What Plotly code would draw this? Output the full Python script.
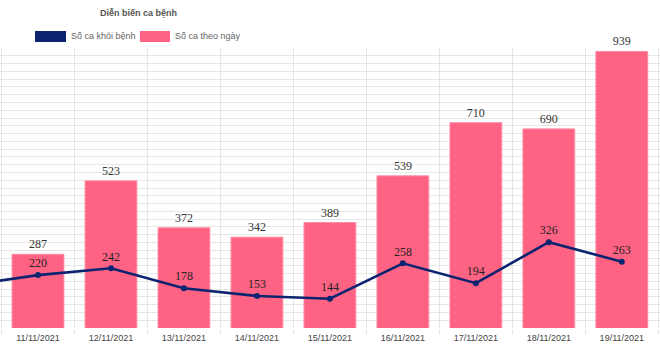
import plotly.graph_objects as go

dates = ["10/11/2021", "11/11/2021", "12/11/2021", "13/11/2021", "14/11/2021",
         "15/11/2021", "16/11/2021", "17/11/2021", "18/11/2021", "19/11/2021"]
daily_cases = [None, 287, 523, 372, 342, 389, 539, 710, 690, 939]
recovered = [186, 220, 242, 178, 153, 144, 258, 194, 326, 263]

title_text = "Diễn biến ca bệnh"
legend_recovered = "Số ca khỏi bệnh"
legend_cases = "Số ca theo ngày"

PINK = "#ff6384"
NAVY = "#0c2470"

# the first date lies just outside the visible window; its label is not shown
bar_labels = ["" if v is None else str(v) for v in daily_cases]
line_labels = [str(v) for v in recovered]
line_labels[0] = ""

fig = go.Figure()
fig.add_trace(go.Bar(
    x=dates, y=daily_cases, name=legend_cases,
    marker=dict(color=PINK, line=dict(color="rgba(255,140,165,1)", width=1)),
    width=0.71,
    text=bar_labels,
    textposition="outside",
    textfont=dict(family="Liberation Serif", size=12, color="#333333"),
    cliponaxis=False,
    showlegend=False,
))
fig.add_trace(go.Scatter(
    x=dates, y=recovered, name=legend_recovered,
    mode="lines+markers+text",
    line=dict(color=NAVY, width=2.6),
    marker=dict(color=NAVY, size=6),
    text=line_labels,
    textposition="top center",
    textfont=dict(family="Liberation Serif", size=12, color="#222222"),
    showlegend=False,
))

W, H = 660, 348
L, R, T, B = 0, 0, 48, 20

def px_x(p):
    return (p - L) / (W - L - R)

def px_y(p):
    return (H - B - p) / (H - T - B)

shapes = [
    dict(type="rect", xref="paper", yref="paper",
         x0=px_x(35), x1=px_x(66), y0=px_y(42), y1=px_y(31),
         fillcolor=NAVY, line=dict(width=0)),
    dict(type="rect", xref="paper", yref="paper",
         x0=px_x(140), x1=px_x(170), y0=px_y(42), y1=px_y(31),
         fillcolor=PINK, line=dict(width=0)),
]
annotations = [
    dict(text=f"<b>{title_text}</b>", xref="paper", yref="paper",
         x=px_x(138.5), y=px_y(13), xanchor="center", yanchor="middle",
         showarrow=False, font=dict(family="Liberation Sans", size=9, color="#555555")),
    dict(text=legend_recovered, xref="paper", yref="paper",
         x=px_x(69), y=px_y(36.5), xanchor="left", yanchor="middle",
         showarrow=False, font=dict(family="Liberation Sans", size=9, color="#666666")),
    dict(text=legend_cases, xref="paper", yref="paper",
         x=px_x(173), y=px_y(36.5), xanchor="left", yanchor="middle",
         showarrow=False, font=dict(family="Liberation Sans", size=9, color="#666666")),
]

fig.update_layout(
    width=W, height=H,
    margin=dict(l=L, r=R, t=T, b=B, pad=0),
    paper_bgcolor="white", plot_bgcolor="white",
    hovermode=False,
    shapes=shapes, annotations=annotations,
    xaxis=dict(
        type="category",
        range=[0.5 - 1.5 / 73, 9.5 + 1.7 / 73],
        tickson="boundaries",
        showgrid=True, gridcolor="#e6e6e6", gridwidth=1,
        ticks="outside", ticklen=5, tickcolor="#e6e6e6",
        ticklabelstandoff=3,
        showline=False, zeroline=False,
        tickfont=dict(family="Liberation Sans Narrow, Liberation Sans", size=9, color="#444444"),
    ),
    yaxis=dict(
        range=[50, 950], dtick=25, tick0=0,
        showgrid=True, gridcolor="#e6e6e6", gridwidth=1,
        showticklabels=False, zeroline=False, showline=False,
    ),
)

fig.write_html("out.html")
